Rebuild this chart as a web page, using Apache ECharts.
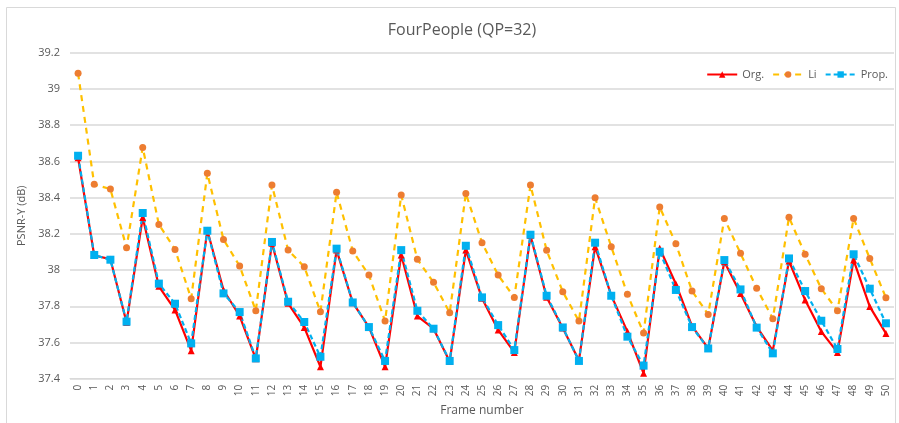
<!DOCTYPE html>
<html><head><meta charset="utf-8">
<script src="https://cdn.jsdelivr.net/npm/echarts@6/dist/echarts.min.js"></script>
<style>html,body{margin:0;padding:0;background:#fff}#c{width:899px;height:423px}</style>
</head><body><div id="c"></div>
<script>
const frames = Array.from({length: 51}, (_, i) => String(i));
const orgValues = [38.62,38.08,38.06,37.71,38.29,37.91,37.78,37.555,38.22,37.89,37.746,37.51,
  38.148,37.816,37.683,37.466,38.11,37.82,37.685,37.466,38.083,37.746,37.676,37.495,38.11,
  37.844,37.669,37.545,38.19,37.85,37.68,37.5,38.129,37.86,37.66,37.43,38.12,37.923,
  37.69,37.567,38.046,37.871,37.687,37.555,38.05,37.834,37.66,37.545,38.055,37.798,37.65];
const liValues = [39.086,38.473,38.447,38.123,38.677,38.252,38.114,37.842,38.534,38.169,38.022,37.775,
  38.469,38.11,38.018,37.77,38.429,38.105,37.972,37.718,38.414,38.059,37.932,37.764,38.423,
  38.151,37.972,37.849,38.469,38.109,37.88,37.718,38.399,38.129,37.866,37.652,38.348,38.145,
  37.884,37.755,38.285,38.092,37.899,37.731,38.291,38.087,37.897,37.775,38.285,38.064,37.847];
const propValues = [38.631,38.083,38.057,37.715,38.315,37.925,37.814,37.595,38.217,37.871,37.768,37.512,
  38.155,37.825,37.713,37.521,38.118,37.821,37.685,37.498,38.11,37.775,37.676,37.498,38.134,
  37.849,37.696,37.558,38.195,37.858,37.683,37.498,38.151,37.858,37.632,37.472,38.101,37.89,
  37.685,37.567,38.055,37.893,37.682,37.54,38.064,37.884,37.72,37.564,38.087,37.897,37.706];
const yTicks = {min: 37.4, max: 39.2, interval: 0.2};

const chart = echarts.init(document.getElementById('c'));
const txt = '#595959';
const font = 'Open Sans';
chart.setOption({
  animation: false,
  backgroundColor: '#fff',
  graphic: [{type: 'rect', shape: {x: 6.5, y: 7.5, width: 889, height: 430},
    style: {fill: 'none', stroke: '#d9d9d9', lineWidth: 1}, silent: true}],
  title: {text: 'FourPeople (QP=32)', left: 457, top: 17, textAlign: 'center',
    textStyle: {color: txt, fontSize: 16, fontWeight: 'normal', fontFamily: font}},
  legend: {right: 6, top: 64, itemWidth: 30, itemHeight: 8, itemGap: 8,
    textStyle: {color: txt, fontSize: 11, fontFamily: font},
    data: ['Org.', 'Li', 'Prop.']},
  grid: {left: 70, right: 5, top: 52.7, bottom: 44.3},
  xAxis: {type: 'category', data: frames, boundaryGap: true,
    name: 'Frame number', nameLocation: 'middle', nameGap: 26,
    nameTextStyle: {color: txt, fontSize: 12, fontFamily: font},
    axisLine: {lineStyle: {color: '#d9d9d9'}}, axisTick: {show: false},
    axisLabel: {rotate: 90, interval: 0, color: txt, fontSize: 10, fontFamily: font, margin: 6}},
  yAxis: {type: 'value', min: yTicks.min, max: yTicks.max, interval: yTicks.interval,
    name: 'PSNR-Y (dB)', nameLocation: 'middle', nameGap: 38, nameRotate: 90,
    nameTextStyle: {color: txt, fontSize: 11, fontFamily: font},
    axisLine: {show: false}, axisTick: {show: false},
    axisLabel: {color: txt, fontSize: 11, fontFamily: font, margin: 10,
      formatter: v => String(+v.toFixed(1))},
    splitLine: {lineStyle: {color: '#d9d9d9', width: 1.5}}},
  series: [
    {name: 'Org.', type: 'line', data: orgValues, symbol: 'triangle', symbolSize: 7,
      lineStyle: {color: '#ff0000', width: 2.2}, itemStyle: {color: '#ff0000'}},
    {name: 'Li', type: 'line', data: liValues, symbol: 'circle', symbolSize: 7,
      lineStyle: {color: '#ffc000', width: 2.2, type: [6, 5]}, itemStyle: {color: '#ed7d31', borderWidth: 0}},
    {name: 'Prop.', type: 'line', data: propValues, symbol: 'rect', symbolSize: 8,
      lineStyle: {color: '#00b0f0', width: 2.2, type: [5, 3]}, itemStyle: {color: '#00b0f0'}}
  ]
});
</script></body></html>
